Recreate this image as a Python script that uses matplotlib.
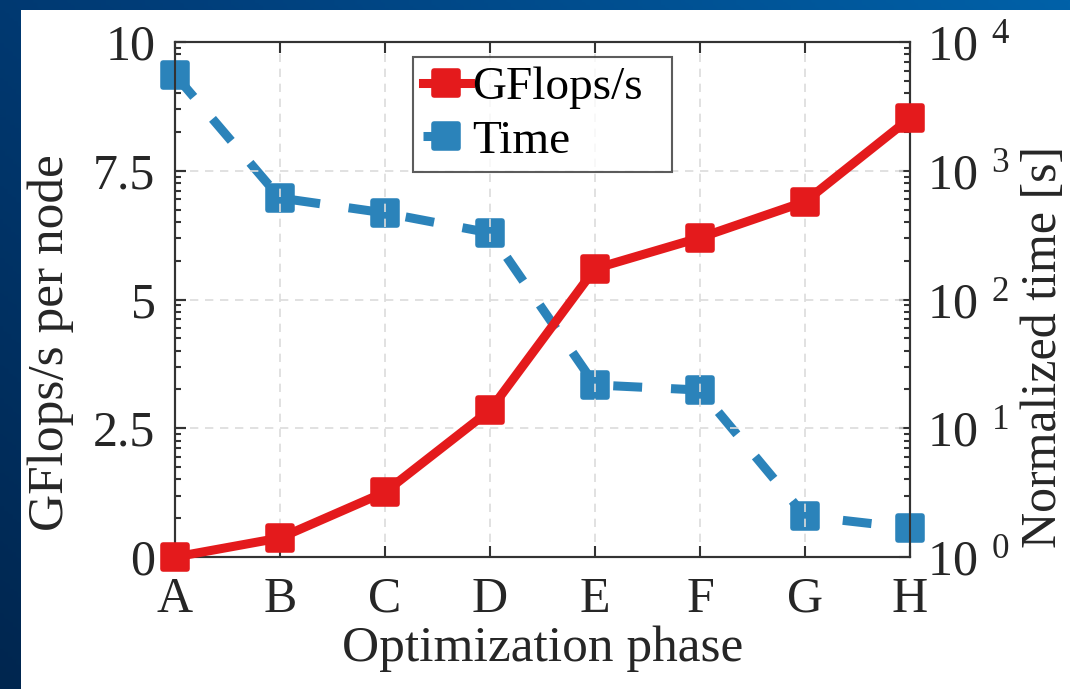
import numpy as np
import matplotlib
matplotlib.use("Agg")
import matplotlib.pyplot as plt
from matplotlib.markers import MarkerStyle
from matplotlib.patches import Rectangle
from matplotlib.ticker import FixedLocator, LogLocator, FuncFormatter, NullFormatter

plt.rcParams['font.family'] = ['Liberation Serif', 'DejaVu Serif']
plt.rcParams['mathtext.fontset'] = 'custom'
plt.rcParams['mathtext.rm'] = 'Liberation Serif'
plt.rcParams['mathtext.it'] = 'Liberation Serif:italic'
plt.rcParams['mathtext.bf'] = 'Liberation Serif:bold'

phases = ['A', 'B', 'C', 'D', 'E', 'F', 'G', 'H']
gflops = [0.0, 0.37, 1.26, 2.85, 5.6, 6.2, 6.9, 8.52]
norm_time = [5550, 614, 470, 329, 21.7, 19.8, 2.08, 1.68]
left_ticks = [0, 2.5, 5, 7.5, 10]
left_ticklabels = ['0', '2.5', '5', '7.5', '10']

red = '#e41a1c'
blue = '#2b83ba'
ink = '#262626'

fig = plt.figure(figsize=(10.7, 6.89), dpi=100)

# slide-style blue backdrop with a white panel on top of it
bg = fig.add_axes([0, 0, 1, 1], zorder=-10)
grad = np.linspace(0, 1, 256)
gx, gy = np.meshgrid(grad, grad)
bg.imshow(0.6 * gx + 0.4 * gy, cmap=matplotlib.colors.LinearSegmentedColormap.from_list(
    'slide', ['#00264f', '#003e7a', '#0061a8']), extent=[0, 1, 0, 1],
    aspect='auto', origin='lower')
bg.add_patch(Rectangle((21 / 1070, 0), 1, 1 - 10 / 689, color='white', lw=0))
bg.set_xlim(0, 1)
bg.set_ylim(0, 1)
bg.axis('off')

ax = fig.add_axes([175 / 1070, 1 - 557 / 689, 735 / 1070, 515 / 689])
ax2 = ax.twinx()

x = np.arange(len(phases))
sq = MarkerStyle('s', joinstyle='round')

ax2.plot(x, norm_time, color=blue, lw=6.5, ls=(0, (3.2, 3.2)), marker=sq,
         ms=17, mew=4, mec=blue, mfc=blue, clip_on=False, zorder=3, label='Time')
ax2.set_yscale('log')
ax2.set_ylim(1, 1e4)

ax.plot(x, gflops, color=red, lw=6.5, marker=sq, ms=17, mew=4, mec=red,
        mfc=red, clip_on=False, zorder=4, label='GFlops/s')
ax.set_ylim(0, 10)
ax.set_xlim(0, 7)

# red line must sit above the twin axes
ax.set_zorder(ax2.get_zorder() + 1)
ax.patch.set_visible(False)

ax.set_xticks(x)
ax.set_xticklabels(phases)
ax.yaxis.set_major_locator(FixedLocator(left_ticks))
ax.set_yticklabels(left_ticklabels)
ax.grid(True, ls=(0, (5, 4)), color='#dcdcdc', lw=1.2)

ax2.yaxis.set_major_locator(LogLocator(base=10, numticks=10))
ax2.yaxis.set_minor_locator(LogLocator(base=10, subs=np.arange(2, 10), numticks=20))
ax2.yaxis.set_minor_formatter(NullFormatter())
ax2.yaxis.set_major_formatter(FuncFormatter(lambda v, p: r'$10^{\;\;%d}$' % round(np.log10(v))))

for a in (ax, ax2):
    for s in a.spines.values():
        s.set_color('#333333')
        s.set_linewidth(1.5)

ax.tick_params(axis='both', which='major', direction='in', length=8, width=1.5,
               colors='#333333', labelcolor=ink, labelsize=36, top=True, pad=14)
ax.tick_params(axis='y', right=False)
ax2.tick_params(axis='y', which='major', direction='in', length=8, width=1.5,
                colors='#333333', labelcolor=ink, labelsize=36, left=True, right=True, pad=12)
ax2.tick_params(axis='y', which='minor', direction='in', length=4.5, width=1.5,
                colors='#333333', left=True, right=True)

ax.set_xlabel('Optimization phase', fontsize=37, color=ink, labelpad=2)
ax.set_ylabel('GFlops/s per node', fontsize=37, color=ink)
ax.yaxis.set_label_coords(-0.138, 0.417)
ax2.set_ylabel('Normalized time [s]', fontsize=36, color=ink)
ax2.yaxis.set_label_coords(1.15, 0.408)

h1, l1 = ax.get_legend_handles_labels()
h2, l2 = ax2.get_legend_handles_labels()
leg = ax.legend(h1 + h2, l1 + l2, loc='upper left',
                bbox_to_anchor=(0.324, 0.971, 0.352, 0.0), mode='expand',
                fontsize=34, frameon=True, fancybox=False, handlelength=1.0,
                handletextpad=0.05, borderpad=0.2, labelspacing=0.22, borderaxespad=0)
leg.get_frame().set_edgecolor('#333333')
leg.get_frame().set_linewidth(1.5)

fig.savefig('out.png', dpi=100)
